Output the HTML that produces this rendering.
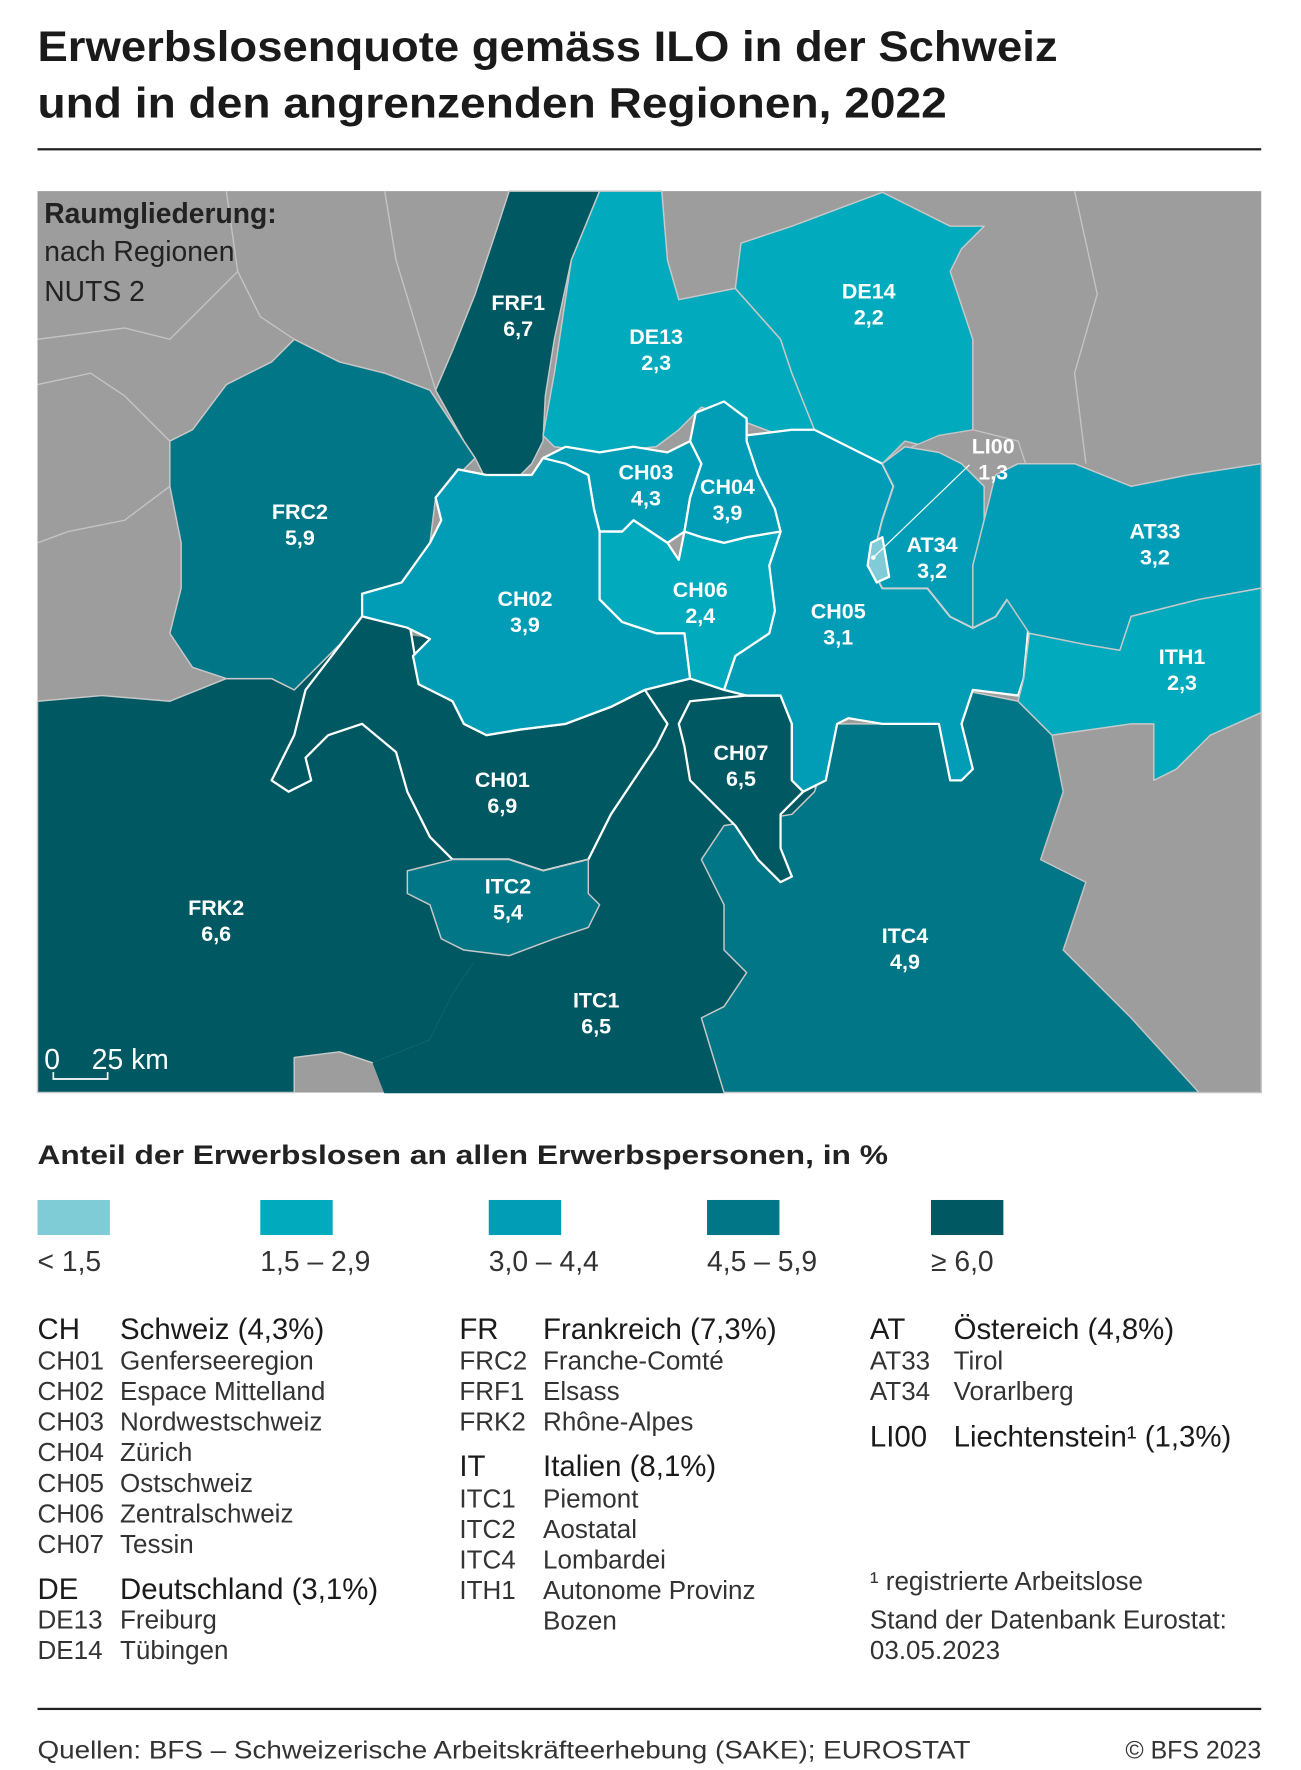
<!DOCTYPE html>
<html><head><meta charset="utf-8"><style>
html,body{margin:0;padding:0;background:#fff}
svg{display:block}
text{font-family:"Liberation Sans",sans-serif}
</style></head><body>
<svg id="s" width="1301" height="1770" viewBox="0 0 1150 1565" xmlns="http://www.w3.org/2000/svg">
<text x="33" y="54" font-size="38" font-weight="bold" fill="#1a1a1a" textLength="902" lengthAdjust="spacingAndGlyphs">Erwerbslosenquote gemäss ILO in der Schweiz</text>
<text x="33" y="104" font-size="38" font-weight="bold" fill="#1a1a1a" textLength="804" lengthAdjust="spacingAndGlyphs">und in den angrenzenden Regionen, 2022</text>
<rect x="33" y="131" width="1082" height="2" fill="#222"/>
<g id="map">
<rect x="33" y="169" width="1082" height="797" fill="#9d9d9d"/>
<g fill="none" stroke="#c4c4c4" stroke-width="1.2">
<path d="M33,340 L80,330 L110,350 L150,390"/><path d="M210,240 L230,280 L260,300"/><path d="M33,480 L60,470 L110,460 L150,430"/><path d="M340,169 L350,230 L385,345"/><path d="M950,169 L970,260 L950,330 L960,410"/><path d="M930,700 L990,720 L1020,760 L1115,760"/><path d="M200,169 L210,240 L150,300 L110,290 L33,300"/>
</g>
</g>
<g id="regions"></g>
<g id="labels"></g>
<line x1="772" y1="493" x2="857" y2="411" stroke="#fff" stroke-width="1"/>
<circle cx="772" cy="493" r="2" fill="#fff"/>
<text x="39" y="197" font-size="25" font-weight="bold" fill="#222">Raumgliederung:</text>
<text x="39" y="231" font-size="25" fill="#222">nach Regionen</text>
<text x="39" y="266" font-size="25" fill="#222">NUTS 2</text>
<text x="39" y="945" font-size="25" fill="#fff">0</text>
<text x="81" y="945" font-size="25" fill="#fff">25 km</text>
<path d="M47,948 L47,954 L95,954 L95,948" stroke="#fff" stroke-width="1.5" fill="none"/>
<text x="33" y="1029" font-size="24" font-weight="bold" fill="#222" textLength="752" lengthAdjust="spacingAndGlyphs">Anteil der Erwerbslosen an allen Erwerbspersonen, in %</text>
<g id="legend"></g>
<g id="list" font-size="23" fill="#333"></g>
<rect x="33" y="1510" width="1082" height="2" fill="#222"/>
<text x="33" y="1555" font-size="22" fill="#333" textLength="825" lengthAdjust="spacingAndGlyphs">Quellen: BFS – Schweizerische Arbeitskräfteerhebung (SAKE); EUROSTAT</text>
<text x="1115" y="1555" font-size="22" fill="#333" text-anchor="end">© BFS 2023</text>
</svg>
<script>
const regionCodes=["FRK2","ITC1","ITC4","FRC2","FRF1","DE13","DE14","CH01","ITC2","CH07","CH05","AT34","AT33","ITH1","CH03","CH04","CH06","CH02","LI00"];
const regionValues=[6.6,6.5,4.9,5.9,6.7,2.3,2.2,6.9,5.4,6.5,3.1,3.2,3.2,2.3,4.3,3.9,2.4,3.9,1.3];
const classBreaks=[1.5,3.0,4.5,6.0];
const classColors=["#80ccd6","#02aabd","#019db7","#007686","#005862"];
const classLabels=["<  1,5","1,5 – 2,9","3,0 – 4,4","4,5 – 5,9","≥ 6,0"];
const NS="http://www.w3.org/2000/svg";
const shapes={
FRK2:"33,620 90,615 150,620 200,600 240,600 260,610 300,570 330,545 360,540 370,600 400,640 420,660 400,720 380,770 360,820 380,840 420,850 400,880 380,920 330,940 300,930 260,935 260,966 33,966",
ITC1:"345,560 600,595 700,605 720,700 700,730 640,730 620,760 640,800 640,840 660,860 640,890 620,900 640,966 340,966 330,940 380,920 400,880 420,850 340,860 330,560",
ITC4:"640,730 700,720 720,700 740,640 850,640 850,610 900,620 930,650 940,700 920,760 960,780 940,840 1000,900 1060,966 640,966 620,900 640,890 660,860 640,840 640,800 620,760",
FRC2:"150,390 170,380 200,340 240,320 260,300 300,320 340,330 380,345 410,390 420,405 385,440 380,480 355,515 320,525 320,545 300,570 260,610 240,600 200,600 170,590 150,560 160,520 160,480 150,430",
FRF1:"450,169 530,169 505,230 490,300 482,350 480,390 470,410 455,425 430,425 420,405 410,390 385,345 400,310 420,260 440,200",
DE13:"530,169 585,169 590,230 600,265 650,255 690,300 700,330 720,380 690,385 650,370 620,360 600,380 580,395 530,400 490,395 480,385 490,330 505,230",
DE14:"655,215 700,200 740,185 780,170 810,185 840,200 870,200 850,220 840,240 860,300 860,390 840,400 800,390 780,410 740,390 720,380 700,330 690,300 650,255",
CH01:"240,690 260,650 270,610 320,545 360,540 370,600 400,620 410,640 430,650 460,645 500,640 540,625 570,610 590,640 580,660 560,690 540,720 520,760 480,770 450,760 400,760 380,740 360,700 350,665 320,640 290,650 270,670 275,690 255,700",
ITC2:"360,770 400,760 450,760 480,770 520,760 520,790 530,800 520,820 490,830 450,845 410,840 390,830 380,800 360,790",
CH07:"600,640 610,620 660,615 690,615 700,640 700,690 710,700 690,720 690,750 700,775 690,780 670,760 650,730 630,710 610,690 605,660",
CH05:"620,390 640,380 660,385 700,380 720,380 740,390 780,410 790,430 780,460 770,500 780,520 820,520 840,545 860,555 880,545 890,530 910,545 905,600 900,615 860,610 850,640 860,680 850,690 840,690 830,640 800,640 780,640 750,635 740,640 730,690 710,700 700,690 700,640 690,615 660,615 640,610 650,580 680,560 680,500 690,470 670,430 660,400",
AT34:"780,410 800,395 830,400 850,410 870,430 870,460 860,500 860,555 840,545 820,520 780,520 770,500 780,460 790,430",
AT33:"900,410 950,410 1000,430 1050,420 1115,410 1115,520 1060,530 1000,545 990,575 960,570 910,560 890,530 880,545 860,555 860,500 870,460 880,420",
ITH1:"910,560 960,570 990,575 1000,545 1060,530 1115,520 1115,630 1070,650 1040,680 1020,690 1020,640 1000,640 930,650 900,620 905,600",
CH03:"480,405 500,395 530,400 560,395 590,400 610,390 620,410 610,440 605,470 590,480 560,460 550,470 530,470 525,450 520,420 500,410 490,415",
CH04:"610,390 615,365 640,355 660,370 660,390 670,420 685,450 690,470 660,475 640,480 620,475 605,470 610,440 620,410",
CH06:"525,470 550,470 560,460 590,480 600,495 605,470 620,475 640,480 660,475 690,470 680,500 685,540 680,560 650,580 640,610 610,600 605,560 580,560 550,550 530,530",
CH02:"385,440 405,415 430,420 470,420 480,405 500,410 520,420 525,450 530,470 530,530 550,550 580,560 605,560 610,600 570,610 540,625 500,640 460,645 430,650 410,640 400,620 370,605 365,580 380,565 360,555 320,545 320,525 355,515 380,480 390,460",
LI00:"770,480 780,475 786,510 775,515 767,500"};
const grayExtra=["930,650 1000,640 1030,620 1115,630 1115,966 1060,966 1000,900 940,840 960,780 920,760 940,700","795,400 830,385 860,380 900,390 910,420 880,460 870,470 862,430 840,410 800,410"];
const labelPos={FRF1:[458,267],DE13:[580,297],DE14:[768,257],FRC2:[265,452],CH03:[571,417],CH04:[643,430],CH02:[464,529],CH06:[619,521],CH05:[741,540],LI00:[878,394],AT34:[824,481],AT33:[1021,469],ITH1:[1045,580],CH07:[655,665],CH01:[444,689],ITC2:[449,783],FRK2:[191,802],ITC1:[527,884],ITC4:[800,827]};
function colorFor(v){let i=0;while(i<classBreaks.length&&v>=classBreaks[i])i++;return classColors[i];}
function fmt(v){return v.toFixed(1).replace('.',',');}
const rg=document.getElementById('regions');
regionCodes.forEach((c,i)=>{
 if(c==="AT34"){grayExtra.forEach((g,k)=>{const p=document.createElementNS(NS,'polygon');p.setAttribute('points',g);p.setAttribute('fill','#9d9d9d');p.setAttribute('stroke','#c4c4c4');p.setAttribute('stroke-width','1.2');
 
 
 rg.appendChild(p);});}
 const p=document.createElementNS(NS,'polygon');
 p.setAttribute('points',shapes[c]);
 const col=colorFor(regionValues[i]);
 p.setAttribute('fill',col);
 const ch=c.startsWith('CH')||c==='LI00';
 p.setAttribute('stroke',ch?'#fff':(c==='ITC1'?col:'#c8c8c8'));
 p.setAttribute('stroke-width',ch?'2':'1.3');
 p.setAttribute('stroke-linejoin','round');
 
 
 rg.appendChild(p);
});
const lg=document.getElementById('labels');
regionCodes.forEach((c,i)=>{
 const [x,y]=labelPos[c];
 [[c,y+7],[fmt(regionValues[i]),y+30]].forEach((t,k)=>{
  const e=document.createElementNS(NS,'text');
  e.setAttribute('x',x);e.setAttribute('y',t[1]);e.setAttribute('text-anchor','middle');
  e.setAttribute('font-size','19');e.setAttribute('font-weight','bold');e.setAttribute('fill','#fff');
  e.textContent=t[0];
  
  
  lg.appendChild(e);
 });
});
const legX=[33,230,432,625,823];
const leg=document.getElementById('legend');
classColors.forEach((col,i)=>{
 const r=document.createElementNS(NS,'rect');
 r.setAttribute('x',legX[i]);r.setAttribute('y',1061);r.setAttribute('width',64);r.setAttribute('height',31);r.setAttribute('fill',col);
 
 
 leg.appendChild(r);
 const t=document.createElementNS(NS,'text');
 t.setAttribute('x',legX[i]);t.setAttribute('y',1124);t.setAttribute('font-size','25');t.setAttribute('fill','#333');
 t.setAttribute('xml:space','preserve');t.textContent=classLabels[i];
 
 
 leg.appendChild(t);
});
const listRows=[
[33,106,1184,"CH","Schweiz (4,3%)",1],[33,106,1211,"CH01","Genferseeregion",0],[33,106,1238,"CH02","Espace Mittelland",0],[33,106,1265,"CH03","Nordwestschweiz",0],[33,106,1292,"CH04","Zürich",0],[33,106,1319,"CH05","Ostschweiz",0],[33,106,1346,"CH06","Zentralschweiz",0],[33,106,1373,"CH07","Tessin",0],
[33,106,1414,"DE","Deutschland (3,1%)",1],[33,106,1440,"DE13","Freiburg",0],[33,106,1467,"DE14","Tübingen",0],
[406,480,1184,"FR","Frankreich (7,3%)",1],[406,480,1211,"FRC2","Franche-Comté",0],[406,480,1238,"FRF1","Elsass",0],[406,480,1265,"FRK2","Rhône-Alpes",0],
[406,480,1305,"IT","Italien (8,1%)",1],[406,480,1333,"ITC1","Piemont",0],[406,480,1360,"ITC2","Aostatal",0],[406,480,1387,"ITC4","Lombardei",0],[406,480,1414,"ITH1","Autonome Provinz",0],[406,480,1441,"","Bozen",0],
[769,843,1184,"AT","Östereich (4,8%)",1],[769,843,1211,"AT33","Tirol",0],[769,843,1238,"AT34","Vorarlberg",0],[769,843,1279,"LI00","Liechtenstein¹ (1,3%)",1],
[769,769,1406,"","¹  registrierte Arbeitslose",0],[769,769,1440,"","Stand der Datenbank Eurostat:",0],[769,769,1467,"","03.05.2023",0]];
const li=document.getElementById('list');
listRows.forEach((r,i)=>{
 [[r[0],r[3]],[r[1],r[4]]].forEach((c,k)=>{
  if(!c[1])return;
  const t=document.createElementNS(NS,'text');
  t.setAttribute('x',c[0]);t.setAttribute('y',r[2]);
  t.setAttribute('font-size',r[5]?'26':'23');t.setAttribute('fill',r[5]?'#1a1a1a':'#333');
  t.setAttribute('xml:space','preserve');t.textContent=c[1];
  
  
  li.appendChild(t);
 });
});
</script>
</body></html>
